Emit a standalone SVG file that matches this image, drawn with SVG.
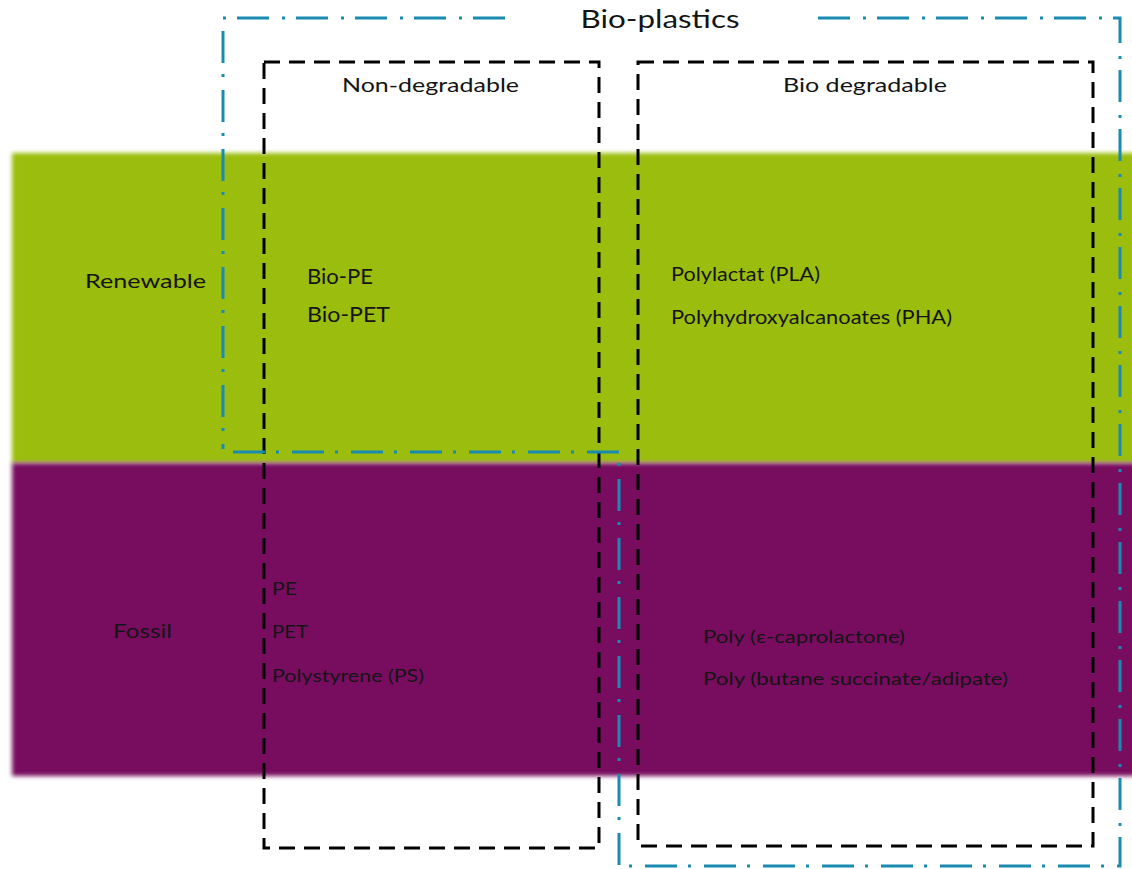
<svg xmlns="http://www.w3.org/2000/svg" width="1132" height="869" viewBox="0 0 1132 869">
<style>
  text { font-family: Lato, "Open Sans", "Liberation Sans", sans-serif; fill: #141414; }
  .band { filter: url(#soft); }
  .blk { fill: none; stroke: #000; stroke-width: 3; stroke-dasharray: 16 9; }
  .blue { fill: none; stroke: #1a8bb0; stroke-width: 3; stroke-dasharray: 32 11 3 13; }
  .lbl { font-size: 20px; }
  .item { font-size: 18px; }
</style>
<defs>
  <filter id="soft" x="-5%" y="-5%" width="110%" height="110%">
    <feGaussianBlur stdDeviation="2"/>
  </filter>
</defs>
<rect width="1132" height="869" fill="#fff"/>
<g id="bands">
  <rect class="band" x="12" y="153" width="1130" height="310" fill="#9bbd0f"/>
  <rect class="band" x="12" y="463" width="1130" height="313" fill="#780f61"/>
</g>
<g id="connectors">
  <rect id="non-degradable-box" class="blk" x="264" y="62" width="335" height="786"/>
  <rect id="bio-degradable-box" class="blk" x="638" y="62" width="455" height="784"/>
  <path id="bio-plastics-outline" class="blue" d="M505 18 H223 V449 M233 452 H619 V866 H1120 V18 H815"/>
</g>
<g id="title"><text x="660" y="28" font-size="25" text-anchor="middle" textLength="159" lengthAdjust="spacingAndGlyphs">Bio-plastics</text></g>
<g id="col-non"><text class="lbl" x="342" y="92" font-size="19" textLength="177" lengthAdjust="spacingAndGlyphs">Non-degradable</text></g>
<g id="col-bio"><text class="lbl" x="783" y="92" font-size="19" textLength="164" lengthAdjust="spacingAndGlyphs">Bio degradable</text></g>
<g id="row-renewable"><text class="lbl" x="85" y="288" font-size="21" textLength="121" lengthAdjust="spacingAndGlyphs">Renewable</text></g>
<g id="row-fossil"><text class="lbl" x="113" y="638" font-size="21" textLength="59" lengthAdjust="spacingAndGlyphs">Fossil</text></g>
<g id="renew-non">
  <text x="307" y="284" font-size="21" textLength="66" lengthAdjust="spacingAndGlyphs">Bio-PE</text>
  <text x="307" y="322" font-size="21" textLength="83" lengthAdjust="spacingAndGlyphs">Bio-PET</text>
</g>
<g id="renew-bio">
  <text x="671" y="281" font-size="19" textLength="149" lengthAdjust="spacingAndGlyphs">Polylactat (PLA)</text>
  <text x="671" y="324" font-size="19" textLength="281" lengthAdjust="spacingAndGlyphs">Polyhydroxyalcanoates (PHA)</text>
</g>
<g id="fossil-non">
  <text x="272" y="595" font-size="18" textLength="25" lengthAdjust="spacingAndGlyphs">PE</text>
  <text x="272" y="638" font-size="18" textLength="36" lengthAdjust="spacingAndGlyphs">PET</text>
  <text x="272" y="682" font-size="18" textLength="152" lengthAdjust="spacingAndGlyphs">Polystyrene (PS)</text>
</g>
<g id="fossil-bio">
  <text x="703" y="643" font-size="18" textLength="202" lengthAdjust="spacingAndGlyphs">Poly (ε-caprolactone)</text>
  <text x="703" y="685" font-size="18" textLength="305" lengthAdjust="spacingAndGlyphs">Poly (butane succinate/adipate)</text>
</g>
</svg>
